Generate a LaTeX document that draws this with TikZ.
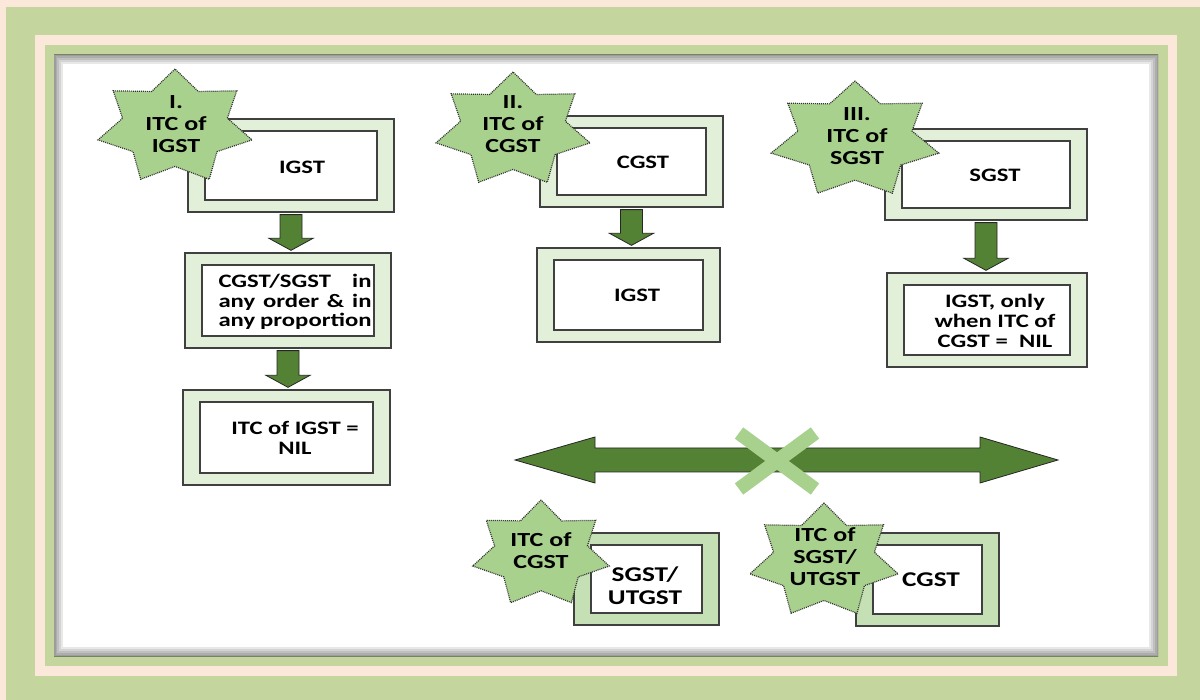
\documentclass[tikz,border=0pt]{standalone}
\usepackage{fontspec}
\setmainfont{Carlito}[FakeStretch=1.3]
\usetikzlibrary{calc}
\definecolor{peach}{HTML}{FCE8DA}
\definecolor{frame}{HTML}{C4D59E}
\definecolor{boxlight}{HTML}{E2EFD9}
\definecolor{boxmid}{HTML}{C5E0B4}
\definecolor{starfill}{HTML}{A9D18E}
\definecolor{arrowgreen}{HTML}{548235}
\definecolor{edge}{HTML}{404040}
\tikzset{
  outerbox/.style={draw=edge, line width=1.3pt, inner sep=0pt, fill=boxlight},
  innerbox/.style={draw=edge, line width=1.3pt, inner sep=0pt, fill=white},
  starshape/.style={fill=starfill, draw=black!80, line width=1.2pt, dash pattern=on 1pt off 1pt},
  lbl/.style={font=\bfseries\fontsize{19}{20}\selectfont, align=center, inner sep=0pt},
  biglbl/.style={font=\bfseries\fontsize{21}{23}\selectfont, align=center, inner sep=0pt},
  starlbl/.style={font=\bfseries\fontsize{20}{22}\selectfont, align=center, inner sep=0pt},
  blockarrow/.style={fill=arrowgreen, draw=black!85, line width=0.8pt, line join=miter},
  crossbar/.style={draw=starfill, line width=14pt, line cap=butt},
}
\newcommand{\dbox}[6]{%
  \node[outerbox,#2,minimum width={#5-#3},minimum height={#6-#4}] (#1) at ({(#3+#5)/2},{(#4+#6)/2}) {};
  \node[innerbox,minimum width={#5-#3-34},minimum height={#6-#4-24}] (#1-in) at (#1.center) {};
}
\newcommand{\gstar}[5]{%
  \coordinate (#1) at (#2,#3);
  \draw[starshape] plot[samples at={0,...,13}] ({#2+#4*(0.68+0.32*(1-mod(\x,2)))*cos(90+\x*180/7)},{#3-#5*(0.68+0.32*(1-mod(\x,2)))*sin(90+\x*180/7)}) -- cycle;
}
\newcommand{\blockdown}[2]{%
  \draw[blockarrow] let \p1=($(#1.south)+(0,2)$), \p2=($(#2.north)+(0,-2)$) in
    (\x1-11pt,\y1) -- (\x1+11pt,\y1) -- (\x1+11pt,\y2+12pt) -- (\x1+22pt,\y2+12pt)
    -- (\x1,\y2) -- (\x1-22pt,\y2+12pt) -- (\x1-11pt,\y2+12pt) -- cycle;
}
\begin{document}
\begin{tikzpicture}[x=1pt,y=-1pt]
\useasboundingbox (0,0) rectangle (1200,700);
% frame
\fill[peach] (0,0) rectangle (1200,700);
\fill[frame] (6,7) rectangle (1200,700);
\fill[peach] (35,35) rectangle (1177,676);
\fill[frame] (45,45) rectangle (1168,666);
\fill[white] (54,55) rectangle (1158,656);
\begin{scope}
  \clip (54,55) rectangle (1158,656);
  \foreach \w in {18,14,10,6,3}
    \draw[black, opacity=0.09, line width=\w pt] (54,55) rectangle (1158,656);
\end{scope}
% boxes
\dbox{b1}{}{188}{119}{394}{212}
\dbox{b2}{}{185}{253}{391}{348}
\dbox{b3}{}{183}{390}{390}{485}
\dbox{c1}{}{540}{116}{723}{207}
\dbox{c2}{}{537}{248}{720}{342}
\dbox{s1}{}{885}{129}{1087}{220}
\dbox{s2}{}{887}{273}{1087}{367}
\dbox{u1}{fill=boxmid}{574}{533}{719}{625}
\dbox{u2}{fill=boxmid}{856}{533}{999}{626}
% arrows
\blockdown{b1}{b2}
\blockdown{b2}{b3}
\blockdown{c1}{c2}
\blockdown{s1}{s2}
% box texts
\node[lbl] (b1t) at (302,167) {IGST};
\node[lbl, font=\bfseries\fontsize{19}{19.5}\selectfont] (b2t) at (295,302)
  {\makebox[153pt][s]{CGST/SGST in}\\\makebox[153pt][s]{any order \& in}\\\makebox[153pt][s]{any proportion}};
\node[lbl] (b3t) at (295,438) {ITC of IGST =\\NIL};
\node[lbl] (c1t) at (643,162) {CGST};
\node[lbl] (c2t) at (637,295) {IGST};
\node[lbl] (s1t) at (995,175) {SGST};
\node[lbl] (s2t) at (995,321) {IGST, only\\when ITC of\\CGST =\ \ NIL};
\node[biglbl] (u1t) at (645,586) {SGST/\\UTGST};
\node[biglbl] (u2t) at (931,580) {CGST};
% stars
\gstar{st1}{175}{127}{79}{58}
\gstar{st2}{513}{130}{79}{58}
\gstar{st3}{855}{140}{86}{59}
\gstar{st4}{541}{554}{70}{54}
\gstar{st5}{824}{561}{76}{58}
\node[starlbl] (st1t) at (176,124) {I.\\ITC of\\IGST};
\node[starlbl] (st2t) at (513,124) {II.\\ITC of\\CGST};
\node[starlbl] (st3t) at (857,136) {III.\\ITC of\\SGST};
\node[starlbl] (st4t) at (541,551) {ITC of\\CGST};
\node[starlbl] (st5t) at (825,557) {ITC of\\SGST/\\UTGST};
% double arrow with cross
\coordinate (dl) at (515,460);
\coordinate (dr) at (1058,460);
\draw[blockarrow] (dl) -- (595,437) -- (595,448) -- (980,448) -- (980,437) -- (dr)
  -- (980,483) -- (980,472) -- (595,472) -- (595,483) -- cycle;
\coordinate (xc) at (777,461);
\draw[crossbar] ($(xc)+(-38,-28)$) -- ($(xc)+(38,28)$);
\draw[crossbar] ($(xc)+(38,-28)$) -- ($(xc)+(-38,28)$);
\end{tikzpicture}
\end{document}
